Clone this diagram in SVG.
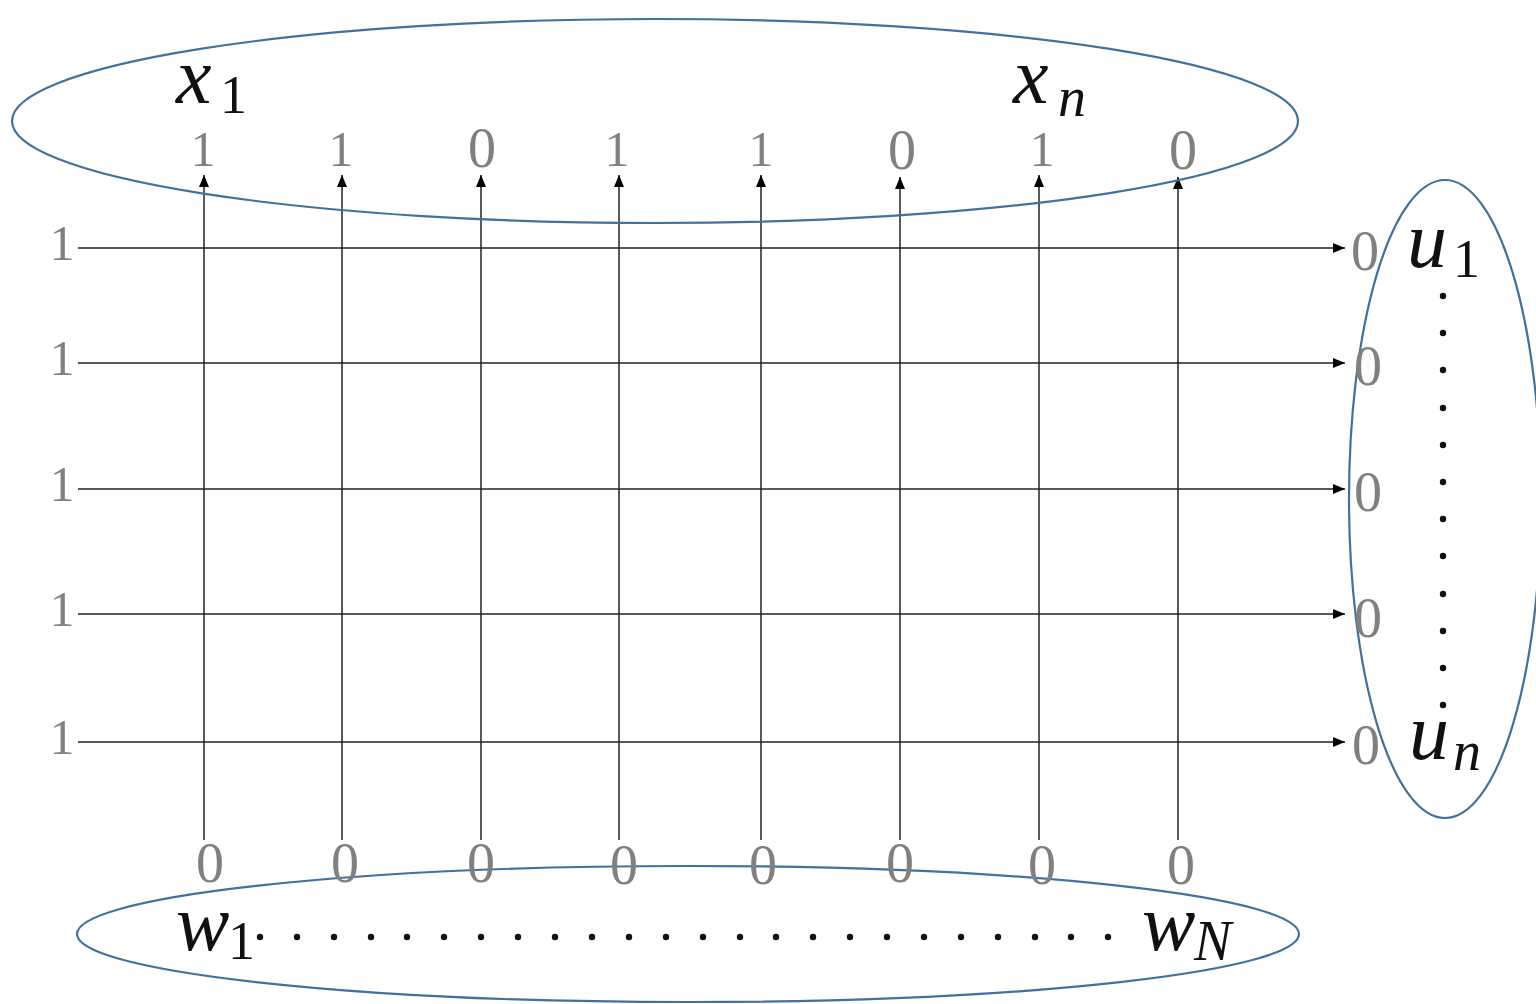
<svg xmlns="http://www.w3.org/2000/svg" width="1536" height="1004" viewBox="0 0 1536 1004">
<style>
.ell{fill:none;stroke:#41719C;stroke-width:2.2}
.ln{stroke:#222;stroke-width:1.5;fill:none}
.num{font-family:"Liberation Serif","DejaVu Serif",serif;font-size:50px;fill:#808080;text-anchor:middle}
.z{font-size:56px}
.var{font-family:"Liberation Serif","DejaVu Serif",serif;font-size:80px;font-style:italic;fill:#111}
.sub{font-family:"Liberation Serif","DejaVu Serif",serif;font-size:54px;fill:#111}
.subi{font-family:"Liberation Serif","DejaVu Serif",serif;font-size:56px;font-style:italic;fill:#111}
.dot{fill:#111}
</style>
<defs>
<marker id="arr" viewBox="0 0 12 10" refX="12" refY="5" markerWidth="12" markerHeight="10" markerUnits="userSpaceOnUse" orient="auto">
<path d="M0,0 L12,5 L0,10 Z" fill="#000"/>
</marker>
</defs>

<g id="connectors">
<line class="ln" x1="204" y1="840" x2="204" y2="175" marker-end="url(#arr)"/>
<line class="ln" x1="342" y1="840" x2="342" y2="175" marker-end="url(#arr)"/>
<line class="ln" x1="481" y1="840" x2="481" y2="175" marker-end="url(#arr)"/>
<line class="ln" x1="619" y1="840" x2="619" y2="175" marker-end="url(#arr)"/>
<line class="ln" x1="761" y1="840" x2="761" y2="175" marker-end="url(#arr)"/>
<line class="ln" x1="900" y1="840" x2="900" y2="177" marker-end="url(#arr)"/>
<line class="ln" x1="1039" y1="840" x2="1039" y2="175" marker-end="url(#arr)"/>
<line class="ln" x1="1178" y1="840" x2="1178" y2="177" marker-end="url(#arr)"/>
<line class="ln" x1="78" y1="248" x2="1345" y2="248" marker-end="url(#arr)"/>
<line class="ln" x1="78" y1="363" x2="1345" y2="363" marker-end="url(#arr)"/>
<line class="ln" x1="78" y1="489" x2="1345" y2="489" marker-end="url(#arr)"/>
<line class="ln" x1="78" y1="614" x2="1345" y2="614" marker-end="url(#arr)"/>
<line class="ln" x1="78" y1="742" x2="1345" y2="742" marker-end="url(#arr)"/>
</g>

<g id="inputs-x">
<ellipse class="ell" cx="655" cy="121" rx="643" ry="102"/>
<text class="var" x="176" y="103">x</text><text class="sub" x="220" y="113">1</text>
<text class="var" x="1013" y="103">x</text><text class="subi" x="1058" y="116">n</text>
<text class="num" x="203" y="166">1</text>
<text class="num" x="341" y="166">1</text>
<text class="num z" x="482" y="167">0</text>
<text class="num" x="617" y="166">1</text>
<text class="num" x="761" y="166">1</text>
<text class="num z" x="902" y="169">0</text>
<text class="num" x="1042" y="166">1</text>
<text class="num z" x="1183" y="169">0</text>
</g>

<g id="inputs-w">
<ellipse class="ell" cx="688" cy="934" rx="611" ry="68"/>
<text class="num z" x="210" y="882">0</text>
<text class="num z" x="345" y="882">0</text>
<text class="num z" x="481" y="882">0</text>
<text class="num z" x="624" y="884">0</text>
<text class="num z" x="763" y="884">0</text>
<text class="num z" x="900" y="882">0</text>
<text class="num z" x="1042" y="884">0</text>
<text class="num z" x="1181" y="884">0</text>
<text class="var" x="176" y="950">w</text><text class="sub" x="228" y="959">1</text>
<text class="var" x="1142" y="950">w</text><text class="subi" x="1194" y="960">N</text>
<g class="dot">
<circle cx="260" cy="937" r="3.2"/><circle cx="297" cy="937" r="3.2"/><circle cx="334" cy="937" r="3.2"/><circle cx="371" cy="937" r="3.2"/>
<circle cx="407" cy="937" r="3.2"/><circle cx="444" cy="937" r="3.2"/><circle cx="481" cy="937" r="3.2"/><circle cx="518" cy="937" r="3.2"/>
<circle cx="555" cy="937" r="3.2"/><circle cx="592" cy="937" r="3.2"/><circle cx="629" cy="937" r="3.2"/><circle cx="666" cy="937" r="3.2"/>
<circle cx="703" cy="937" r="3.2"/><circle cx="740" cy="937" r="3.2"/><circle cx="776" cy="937" r="3.2"/><circle cx="813" cy="937" r="3.2"/>
<circle cx="850" cy="937" r="3.2"/><circle cx="887" cy="937" r="3.2"/><circle cx="924" cy="937" r="3.2"/><circle cx="961" cy="937" r="3.2"/>
<circle cx="998" cy="937" r="3.2"/><circle cx="1035" cy="937" r="3.2"/><circle cx="1071" cy="937" r="3.2"/><circle cx="1108" cy="937" r="3.2"/>
</g>
</g>

<g id="inputs-left">
<text class="num" x="62" y="260">1</text>
<text class="num" x="62" y="375">1</text>
<text class="num" x="62" y="501">1</text>
<text class="num" x="62" y="626">1</text>
<text class="num" x="62" y="754">1</text>
</g>

<g id="outputs-u">
<ellipse class="ell" cx="1445" cy="499" rx="96" ry="319"/>
<text class="num z" x="1365" y="270">0</text>
<text class="num z" x="1368" y="385">0</text>
<text class="num z" x="1368" y="511">0</text>
<text class="num z" x="1368" y="637">0</text>
<text class="num z" x="1366" y="764">0</text>
<text class="var" x="1407" y="267">u</text><text class="sub" x="1453" y="277">1</text>
<text class="var" x="1409" y="759">u</text><text class="subi" x="1453" y="770">n</text>
<g class="dot">
<circle cx="1443" cy="296" r="3.2"/><circle cx="1443" cy="333" r="3.2"/><circle cx="1443" cy="370" r="3.2"/><circle cx="1443" cy="408" r="3.2"/>
<circle cx="1443" cy="445" r="3.2"/><circle cx="1443" cy="482" r="3.2"/><circle cx="1443" cy="519" r="3.2"/><circle cx="1443" cy="556" r="3.2"/>
<circle cx="1443" cy="594" r="3.2"/><circle cx="1443" cy="631" r="3.2"/><circle cx="1443" cy="668" r="3.2"/><circle cx="1443" cy="705" r="3.2"/>
</g>
</g>
</svg>
